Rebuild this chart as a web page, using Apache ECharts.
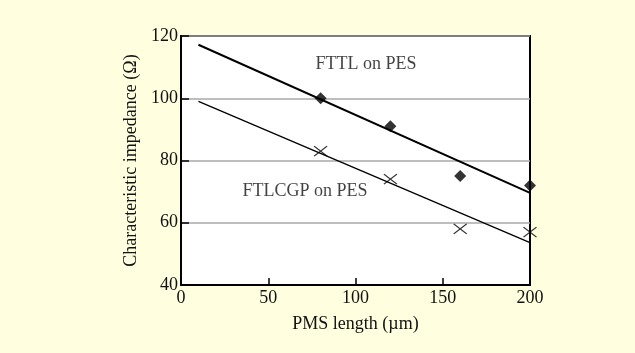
<!DOCTYPE html>
<html>
<head>
<meta charset="utf-8">
<script src="https://cdn.jsdelivr.net/npm/echarts@6/dist/echarts.min.js"></script>
<style>
  html, body { margin: 0; padding: 0; background: #ffffe0; }
  #chart { width: 635px; height: 353px; }
</style>
</head>
<body>
<div id="chart"></div>
<script>
// measured points
const lengths = [80, 120, 160, 200];
const fttlValues = [100, 91, 75, 72];
const ftlcgpValues = [83, 74, 58, 57];
// fitted trend lines (end points)
const fttlFit = [[10, 117.2], [200, 69.6]];
const ftlcgpFit = [[10, 99], [200, 53.6]];
const xTicks = [0, 50, 100, 150, 200];
const yTicks = [40, 60, 80, 100, 120];

const font = "Liberation Serif";
const ink = "#111";

const chart = echarts.init(document.getElementById("chart"));

const options = {
  backgroundColor: "#ffffe0",
  animation: false,
  grid: {
    left: 181,
    top: 36,
    right: 105,
    bottom: 68,
    show: true,
    backgroundColor: "#ffffff",
    borderColor: "#000",
    borderWidth: 2,
  },
  xAxis: {
    type: "value",
    min: xTicks[0],
    max: xTicks[xTicks.length - 1],
    interval: 50,
    name: "PMS length (\u00b5m)",
    nameLocation: "middle",
    nameGap: 30,
    nameTextStyle: { fontFamily: font, fontSize: 18, color: ink },
    axisLine: { show: true, lineStyle: { color: "#000", width: 2 } },
    axisTick: { show: true, inside: true, length: 7, lineStyle: { color: "#000", width: 1.5 } },
    axisLabel: { fontFamily: font, fontSize: 18, color: ink, margin: 4 },
    splitLine: { show: false },
  },
  yAxis: {
    type: "value",
    min: yTicks[0],
    max: yTicks[yTicks.length - 1],
    interval: 20,
    name: "Characteristic impedance (\u03a9)",
    nameLocation: "middle",
    nameGap: 40,
    nameTextStyle: { fontFamily: font, fontSize: 18, color: ink },
    axisLine: { show: true, lineStyle: { color: "#000", width: 2 } },
    axisTick: { show: true, inside: true, length: 8, lineStyle: { color: "#000", width: 1.5 } },
    axisLabel: { fontFamily: font, fontSize: 18, color: ink, margin: 3 },
    splitLine: { show: true, lineStyle: { color: "#a8a8a8", width: 1.5 } },
  },
  series: [
    {
      name: "FTTL fit",
      type: "line",
      data: fttlFit,
      showSymbol: false,
      lineStyle: { color: "#000", width: 2 },
      silent: true,
    },
    {
      name: "FTLCGP fit",
      type: "line",
      data: ftlcgpFit,
      showSymbol: false,
      lineStyle: { color: "#000", width: 1.3 },
      silent: true,
    },
    {
      name: "FTTL on PES",
      type: "scatter",
      symbol: "diamond",
      symbolSize: [12, 12],
      itemStyle: { color: "#000" },
      data: lengths.map((x, i) => [x, fttlValues[i]]),
    },
    {
      name: "FTLCGP on PES",
      type: "scatter",
      symbol: "path://M0,0L10,8M10,0L0,8",
      symbolSize: [13, 10],
      itemStyle: { color: "transparent", borderColor: "#000", borderWidth: 1.2 },
      data: lengths.map((x, i) => [x, ftlcgpValues[i]]),
    },
    {
      type: "scatter",
      symbolSize: 0,
      silent: true,
      data: [
        { value: [106, 110.9], label: { formatter: "FTTL on PES" } },
        { value: [71, 70.2], label: { formatter: "FTLCGP on PES" } },
      ],
      label: {
        show: true,
        position: "inside",
        fontFamily: font,
        fontSize: 18,
        color: ink,
      },
    },
  ],
};

chart.setOption(options);
</script>
</body>
</html>
